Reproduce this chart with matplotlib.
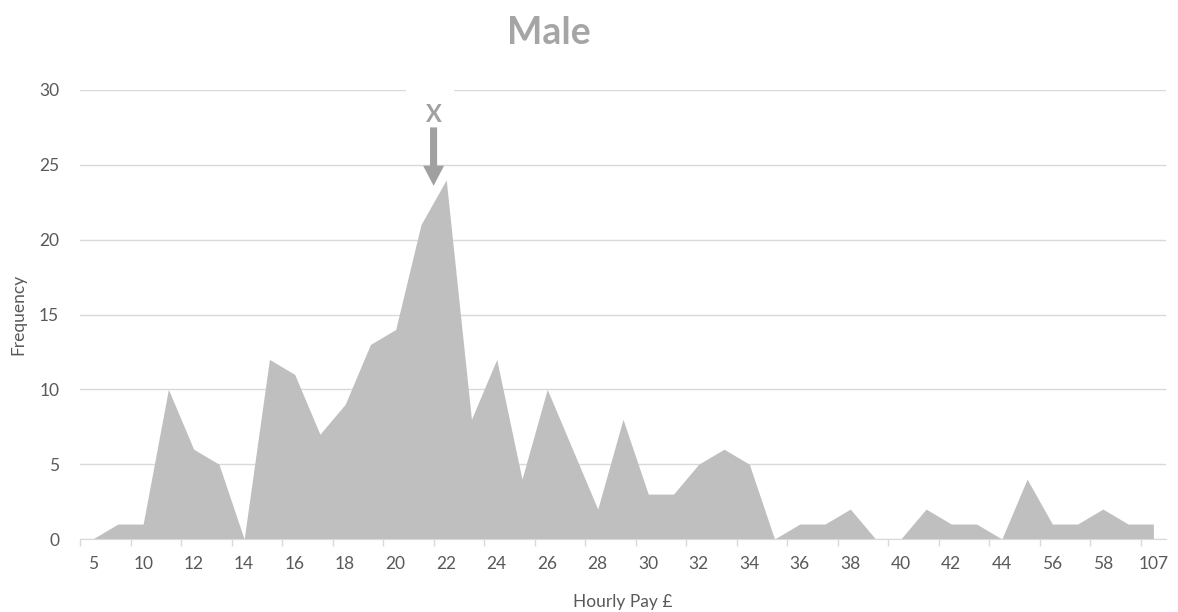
import numpy as np
import matplotlib
matplotlib.use('Agg')
import matplotlib.pyplot as plt
from matplotlib.patches import Rectangle

plt.rcParams['font.family'] = ['Lato', 'DejaVu Sans']

# hourly pay bands (only every other one is labelled on the axis)
pay_bands = ['5', '8', '10', '11', '12', '13', '14', '15', '16', '17', '18',
             '19', '20', '21', '22', '23', '24', '25', '26', '27', '28', '29',
             '30', '31', '32', '33', '34', '35', '36', '37', '38', '39', '40',
             '41', '42', '43', '44', '45', '56', '57', '58', '60', '107']
frequency = [0, 1, 1, 10, 6, 5, 0, 12, 11, 7, 9,
             13, 14, 21, 24, 8, 12, 4, 10, 6, 2, 8,
             3, 3, 5, 6, 5, 0, 1, 1, 2, 0, 0,
             2, 1, 1, 0, 4, 1, 1, 2, 1, 1]
mean_marker = 13.5  # position of the "X" arrow, between 21 and 22

W, H = 1178, 612
fig = plt.figure(figsize=(W / 100, H / 100), dpi=100)
ax = fig.add_axes([80 / W, 73 / H, 1086 / W, 449 / H])

x = np.arange(len(pay_bands))
ax.fill_between(x, frequency, 0, color='#BFBFBF', linewidth=0, zorder=2)

ax.set_xlim(-0.5, len(pay_bands) - 0.5)
ax.set_ylim(0, 30)
ax.set_yticks(range(0, 31, 5))
ax.set_axisbelow(True)
ax.grid(axis='y', color='#D9D9D9', linewidth=1)

ax.set_xticks(x[::2])
ax.set_xticklabels(pay_bands[::2])
ax.set_xticks(np.arange(-0.5, len(pay_bands) - 1, 2), minor=True)
ax.tick_params(axis='x', which='major', length=0, pad=12, labelsize=12.5,
               labelcolor='#595959')
ax.tick_params(axis='x', which='minor', length=5, color='#D9D9D9', width=1)
ax.tick_params(axis='y', length=0, pad=15, labelsize=12.5, labelcolor='#595959')

for side in ['top', 'right', 'left']:
    ax.spines[side].set_visible(False)
ax.spines['bottom'].set_color('#D9D9D9')

ax.set_xlabel('Hourly Pay £', fontsize=12.5, color='#595959', labelpad=16)
ax.set_ylabel('Frequency', fontsize=12.5, color='#595959', labelpad=9)

# white box behind the marker breaks the top gridline
ax.add_patch(Rectangle((12.41, 29.6), 1.9, 0.8, facecolor='white',
                       edgecolor='none', zorder=1.5, clip_on=False))
ax.text(mean_marker, 28.35, 'X', ha='center', va='center', fontsize=17,
        fontweight='bold', color='#A0A0A0', zorder=3)
ax.arrow(mean_marker, 27.5, 0, -3.9, width=0.28, head_width=0.83,
         head_length=1.34, length_includes_head=True, color='#A0A0A0',
         linewidth=0, zorder=3)

fig.text(549 / W, 1 - 33 / H, 'Male', ha='center', va='center', fontsize=27,
         fontweight='bold', color='#A5A5A5')

plt.savefig('out.png', dpi=100)
